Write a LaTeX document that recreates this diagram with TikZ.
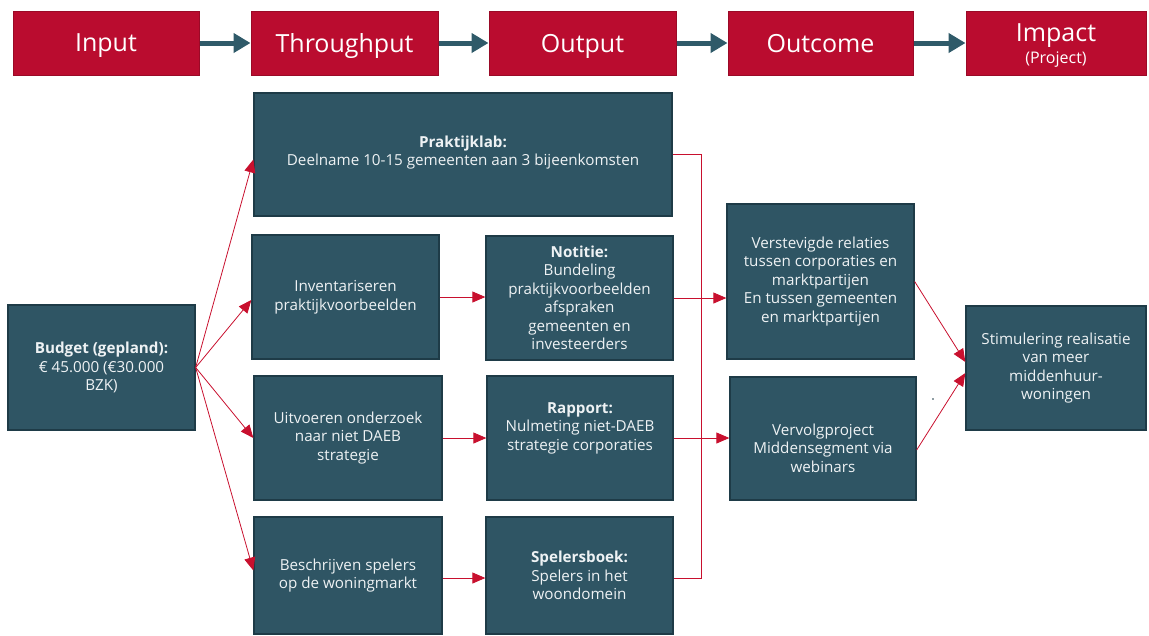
\documentclass[tikz,border=0pt]{standalone}
\usepackage{fontspec}
\setmainfont{Open Sans}
\usetikzlibrary{arrows.meta}
\definecolor{hdred}{HTML}{BA0C2F}
\definecolor{hdborder}{HTML}{9A0A27}
\definecolor{teal}{HTML}{2F5564}
\definecolor{tealborder}{HTML}{1E3B47}
\definecolor{arrteal}{HTML}{2F5A69}
\definecolor{lnred}{HTML}{C8102E}
\definecolor{txt}{HTML}{EEF2F4}
\tikzset{
  hdbox/.style={draw=hdborder, line width=1pt, fill=hdred, inner sep=0pt},
  hdtext/.style={text=white, font=\fontsize{25}{28}\selectfont, inner sep=0pt},
  tbox/.style={draw=tealborder, line width=1.3pt, fill=teal, text=txt, font=\fontsize{15.2}{18.5}\selectfont, inner sep=0pt, align=center},
  ttext/.style={text=txt, font=\fontsize{15.2}{18.5}\selectfont, align=center, inner sep=0pt},
  hdarrow/.style={draw=arrteal, line width=5pt, -{Triangle[length=17pt,width=19pt]}},
  rarrow/.style={draw=lnred, line width=0.8pt, -{Triangle[length=13pt,width=11pt]}},
  rline/.style={draw=lnred, line width=0.8pt},
}
\begin{document}
\begin{tikzpicture}[x=1pt,y=-1pt]
\useasboundingbox (0,0) rectangle (1149,635);
% header
\node[hdbox, minimum width=186pt, minimum height=64pt] (in) at (106,43) {};
\node[hdbox, minimum width=187pt, minimum height=64pt] (th) at (344.5,43) {};
\node[hdbox, minimum width=187pt, minimum height=64pt] (out) at (582.5,43) {};
\node[hdbox, minimum width=185pt, minimum height=64pt] (oc) at (820.5,43) {};
\node[hdbox, minimum width=180pt, minimum height=64pt] (imp) at (1056,43) {};
\node[hdtext] (int) at (106,46) {Input};
\node[hdtext] (tht) at (344.5,46) {Throughput};
\node[hdtext] (outt) at (582.5,46) {Output};
\node[hdtext] (oct) at (820.5,44) {Outcome};
\node[hdtext] (impt) at (1056,36) {Impact};
\node[text=white, font=\fontsize{16}{18}\selectfont, inner sep=0pt] (impp) at (1056,60) {(Project)};
\draw[hdarrow] (in.east) -- (th.west);
\draw[hdarrow] (th.east) -- (out.west);
\draw[hdarrow] (out.east) -- (oc.west);
\draw[hdarrow] (oc.east) -- (imp.west);
% body
\node[tbox, minimum width=187pt, minimum height=125pt] (budget) at (101.5,367.5) {\textbf{Budget (gepland):}\\€ 45.000 (€30.000\\BZK)};
\node[tbox, minimum width=418pt, minimum height=123pt] (prak) at (463,154.5) {};
\node[ttext] (prakt) at (463,152.5) {\textbf{Praktijklab:}\\Deelname 10-15 gemeenten aan 3 bijeenkomsten};
\node[tbox, minimum width=187pt, minimum height=124pt] (inv) at (345.5,297) {Inventariseren\\praktijkvoorbeelden};
\node[tbox, minimum width=188pt, minimum height=124pt] (uit) at (348,438) {Uitvoeren onderzoek\\naar niet DAEB\\strategie};
\node[tbox, minimum width=188pt, minimum height=117pt] (bes) at (348,575.5) {Beschrijven spelers\\op de woningmarkt};
\node[tbox, minimum width=187pt, minimum height=124pt] (not) at (579.5,298) {\textbf{Notitie:}\\Bundeling\\praktijkvoorbeelden\\afspraken\\gemeenten en\\investeerders};
\node[tbox, minimum width=186pt, minimum height=124pt] (rap) at (580,438) {};
\node[ttext] (rapt) at (580,428) {\textbf{Rapport:}\\Nulmeting niet-DAEB\\strategie corporaties};
\node[tbox, minimum width=187pt, minimum height=117pt] (spel) at (579.5,575.5) {\textbf{Spelersboek:}\\Spelers in het\\woondomein};
\node[tbox, minimum width=187pt, minimum height=155pt] (ver) at (820.5,281.5) {Verstevigde relaties\\tussen corporaties en\\marktpartijen\\En tussen gemeenten\\en marktpartijen};
\node[tbox, minimum width=186pt, minimum height=123pt] (vv) at (823,438.5) {};
\node[ttext] (vvt) at (823,448) {Vervolgproject\\Middensegment via\\webinars};
\node[tbox, minimum width=180pt, minimum height=124pt] (stim) at (1056,368) {Stimulering realisatie\\van meer\\middenhuur-\\woningen};
% connectors
\draw[rarrow] (budget.east) -- ([yshift=-5pt]prak.west);
\draw[rarrow] (budget.east) -- ([yshift=-3pt]inv.west);
\draw[rarrow] (budget.east) -- (uit.west);
\draw[rarrow] (budget.east) -- ([yshift=5pt]bes.west);
\draw[rarrow] (inv.east) -- (inv.east -| not.west);
\draw[rarrow] (uit.east) -- (uit.east -| rap.west);
\draw[rarrow] ([yshift=-2.5pt]bes.east) -- ([yshift=-2.5pt]spel.west);
\draw[rline] (prak.east) -- ([xshift=29pt]prak.east) |- ([yshift=-2.5pt]spel.east);
\draw[rarrow] (not.east) -- (not.east -| ver.west);
\draw[rarrow] (rap.east) -- (rap.east -| vv.west);
\draw[rarrow] (ver.east) -- ([yshift=6pt]stim.west);
\draw[rarrow] ([yshift=-11.5pt]vv.east) -- ([yshift=-5pt]stim.west);
\fill[tealborder] (933,399) circle (0.8pt);
\end{tikzpicture}
\end{document}
